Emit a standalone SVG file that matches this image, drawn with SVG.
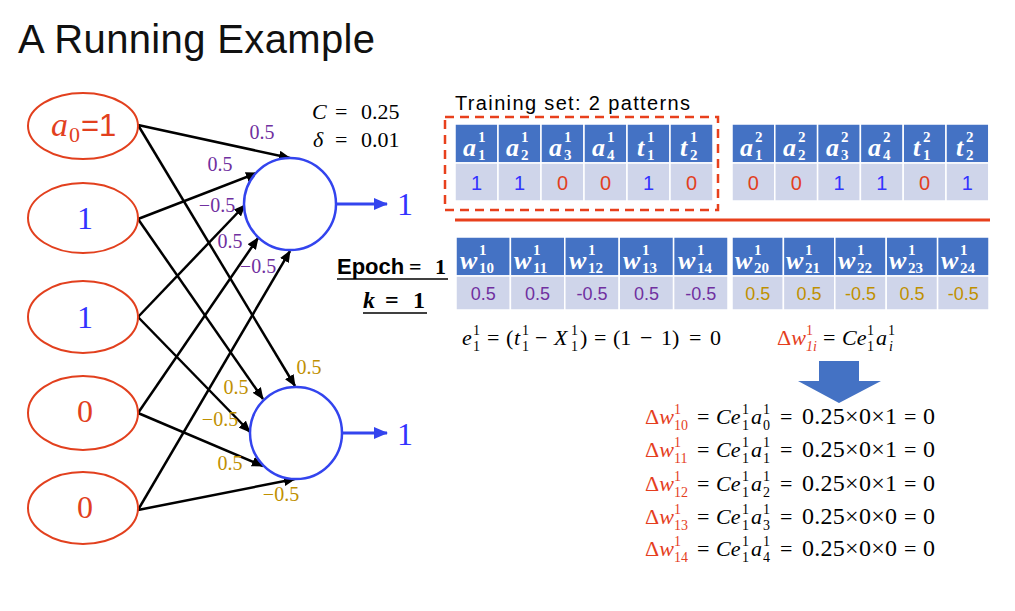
<svg xmlns="http://www.w3.org/2000/svg" width="1015" height="611" viewBox="0 0 1015 611">
<defs>
<marker id="ah" markerUnits="userSpaceOnUse" markerWidth="12" markerHeight="10" refX="11" refY="5" orient="auto"><path d="M0,0 L12,5 L0,10 z" fill="#000"/></marker>
<marker id="ahb" markerUnits="userSpaceOnUse" markerWidth="14" markerHeight="12" refX="13" refY="6" orient="auto"><path d="M0,0 L14,6 L0,12 z" fill="#3344EE"/></marker>
<style>
.s{font-family:"Liberation Serif",serif}
.ss{font-family:"Liberation Sans",sans-serif}
.i{font-style:italic}
.b{font-weight:bold}
.inp{fill:#fff;stroke:#E2401E;stroke-width:2}
.neu{fill:#fff;stroke:#3344EE;stroke-width:2.5}
.cn{stroke:#000;stroke-width:2.5;fill:none;marker-end:url(#ah)}
.out{stroke:#3344EE;stroke-width:3;fill:none;marker-end:url(#ahb)}
.wp{font-family:"Liberation Serif",serif;font-size:20px;fill:#7030A0;text-anchor:middle}
.wg{font-family:"Liberation Serif",serif;font-size:20px;fill:#BF9000;text-anchor:middle}
.ch{fill:#4472C4;stroke:#fff;stroke-width:1.5}
.cd{fill:#CFD5EA;stroke:#fff;stroke-width:1.5}
.hb{fill:#fff;font-family:"Liberation Serif",serif;font-weight:bold;font-style:italic;font-size:26px}
.hs{fill:#fff;font-family:"Liberation Serif",serif;font-weight:bold;font-size:15px}
.dv{font-family:"Liberation Sans",sans-serif;font-size:20px;text-anchor:middle}
.wv{font-family:"Liberation Sans",sans-serif;font-size:18px;text-anchor:middle}
.bl{fill:#3333FF}
.rd{fill:#E2401E}
.pu{fill:#7030A0}
.go{fill:#BF9000}
.eq{font-family:"Liberation Serif",serif;font-size:22px;fill:#000}
.num{font-family:"Liberation Serif",serif;font-size:24px;fill:#000}
.sc{font-family:"Liberation Serif",serif;font-size:14px;fill:#000}
.dr{fill:#E53E1E}
</style>
</defs>
<rect width="1015" height="611" fill="#fff"/>

<text x="18" y="53" class="ss" font-size="40" fill="#111" textLength="357">A Running Example</text>

<g id="connectors">
<path class="cn" d="M138,125 L290,158"/>
<path class="cn" d="M138,219 L257,173"/>
<path class="cn" d="M138,317 L245,205"/>
<path class="cn" d="M138,413 L258,238"/>
<path class="cn" d="M138,510 L290,251"/>
<path class="cn" d="M138,125 L295,386"/>
<path class="cn" d="M138,219 L263,399"/>
<path class="cn" d="M138,317 L250,432"/>
<path class="cn" d="M138,413 L263,466"/>
<path class="cn" d="M138,510 L295,479"/>
<path class="out" d="M336,204 L387,204"/>
<path class="out" d="M342,433 L387,433"/>
</g>

<g id="input0"><ellipse class="inp" cx="83" cy="126" rx="55" ry="33"/>
<text x="51" y="136" class="s i rd" font-size="34">a</text><text x="69" y="142" class="s rd" font-size="22">0</text><text x="81" y="136" class="ss rd" font-size="31">=1</text></g>
<g id="input1"><ellipse class="inp" cx="83" cy="218" rx="55" ry="35"/><text x="85" y="229" class="s bl" font-size="32" text-anchor="middle">1</text></g>
<g id="input2"><ellipse class="inp" cx="83" cy="317" rx="55" ry="36"/><text x="85" y="328" class="s bl" font-size="32" text-anchor="middle">1</text></g>
<g id="input3"><ellipse class="inp" cx="83" cy="413" rx="55" ry="37"/><text x="85" y="422" class="s rd" font-size="32" text-anchor="middle">0</text></g>
<g id="input4"><ellipse class="inp" cx="83" cy="508" rx="55" ry="36"/><text x="85" y="518" class="s rd" font-size="32" text-anchor="middle">0</text></g>

<g id="neuron1"><circle class="neu" cx="290" cy="204" r="46"/><text x="405" y="215" class="s bl" font-size="32" text-anchor="middle">1</text></g>
<g id="neuron2"><circle class="neu" cx="296" cy="433" r="46"/><text x="405" y="445" class="s bl" font-size="32" text-anchor="middle">1</text></g>

<g id="weights1">
<text class="wp" x="262" y="139">0.5</text>
<text class="wp" x="220" y="171">0.5</text>
<text class="wp" x="217" y="212">−0.5</text>
<text class="wp" x="230" y="248">0.5</text>
<text class="wp" x="258" y="273">−0.5</text>
</g>
<g id="weights2">
<text class="wg" x="309" y="374">0.5</text>
<text class="wg" x="236" y="394">0.5</text>
<text class="wg" x="220" y="426">−0.5</text>
<text class="wg" x="230" y="470">0.5</text>
<text class="wg" x="281" y="501">−0.5</text>
</g>

<g id="params">
<text x="312" y="119" class="eq i" font-size="25">C</text><text x="335" y="119" class="eq" font-size="25">=</text><text x="361" y="119" class="eq" font-size="25">0.25</text>
<text x="313" y="147" class="eq i" font-size="25">δ</text><text x="335" y="147" class="eq" font-size="25">=</text><text x="361" y="147" class="eq" font-size="25">0.01</text>
</g>

<g id="epoch">
<text x="337" y="274" font-size="22" class="ss b">Epoch</text><text x="409" y="274" font-size="22" class="s b">=</text><text x="435" y="274" font-size="22" class="s b">1</text>
<line x1="337" y1="279" x2="448" y2="279" stroke="#000" stroke-width="1.5"/>
<text x="363" y="308" font-size="24" class="s b i">k</text><text x="385" y="308" font-size="24" class="s b">=</text><text x="413" y="308" font-size="24" class="s b">1</text>
<line x1="363" y1="313" x2="427" y2="313" stroke="#000" stroke-width="1.5"/>
</g>

<g id="training">
<text x="455" y="110" class="ss" font-size="20" textLength="235">Training set: 2 patterns</text>
<rect x="445" y="117" width="273" height="93" fill="none" stroke="#E8401C" stroke-width="2.5" stroke-dasharray="9 6"/>
</g>

<g id="pattern1">
<rect class="ch" x="455" y="124" width="43" height="39"/><rect class="ch" x="498" y="124" width="43" height="39"/><rect class="ch" x="541" y="124" width="43" height="39"/><rect class="ch" x="584" y="124" width="43" height="39"/><rect class="ch" x="627" y="124" width="43" height="39"/><rect class="ch" x="670" y="124" width="43" height="39"/>
<rect class="cd" x="455" y="163" width="43" height="38"/><rect class="cd" x="498" y="163" width="43" height="38"/><rect class="cd" x="541" y="163" width="43" height="38"/><rect class="cd" x="584" y="163" width="43" height="38"/><rect class="cd" x="627" y="163" width="43" height="38"/><rect class="cd" x="670" y="163" width="43" height="38"/>
<text class="hb" x="463" y="156">a</text><text class="hs" x="478" y="142">1</text><text class="hs" x="478" y="160">1</text>
<text class="hb" x="506" y="156">a</text><text class="hs" x="521" y="142">1</text><text class="hs" x="521" y="160">2</text>
<text class="hb" x="549" y="156">a</text><text class="hs" x="564" y="142">1</text><text class="hs" x="564" y="160">3</text>
<text class="hb" x="592" y="156">a</text><text class="hs" x="607" y="142">1</text><text class="hs" x="607" y="160">4</text>
<text class="hb" x="637" y="156">t</text><text class="hs" x="647" y="142">1</text><text class="hs" x="647" y="160">1</text>
<text class="hb" x="680" y="156">t</text><text class="hs" x="690" y="142">1</text><text class="hs" x="690" y="160">2</text>
<text class="dv bl" x="476.5" y="190">1</text><text class="dv bl" x="519.5" y="190">1</text><text class="dv rd" x="562.5" y="190">0</text><text class="dv rd" x="605.5" y="190">0</text><text class="dv bl" x="648.5" y="190">1</text><text class="dv rd" x="691.5" y="190">0</text>
</g>

<g id="pattern2">
<rect class="ch" x="732" y="124" width="42.8" height="39"/><rect class="ch" x="774.8" y="124" width="42.8" height="39"/><rect class="ch" x="817.6" y="124" width="42.8" height="39"/><rect class="ch" x="860.4" y="124" width="42.8" height="39"/><rect class="ch" x="903.2" y="124" width="42.8" height="39"/><rect class="ch" x="946" y="124" width="42.8" height="39"/>
<rect class="cd" x="732" y="163" width="42.8" height="38"/><rect class="cd" x="774.8" y="163" width="42.8" height="38"/><rect class="cd" x="817.6" y="163" width="42.8" height="38"/><rect class="cd" x="860.4" y="163" width="42.8" height="38"/><rect class="cd" x="903.2" y="163" width="42.8" height="38"/><rect class="cd" x="946" y="163" width="42.8" height="38"/>
<text class="hb" x="740" y="156">a</text><text class="hs" x="755" y="142">2</text><text class="hs" x="755" y="160">1</text>
<text class="hb" x="783" y="156">a</text><text class="hs" x="798" y="142">2</text><text class="hs" x="798" y="160">2</text>
<text class="hb" x="826" y="156">a</text><text class="hs" x="841" y="142">2</text><text class="hs" x="841" y="160">3</text>
<text class="hb" x="868" y="156">a</text><text class="hs" x="883" y="142">2</text><text class="hs" x="883" y="160">4</text>
<text class="hb" x="913" y="156">t</text><text class="hs" x="923" y="142">2</text><text class="hs" x="923" y="160">1</text>
<text class="hb" x="956" y="156">t</text><text class="hs" x="966" y="142">2</text><text class="hs" x="966" y="160">2</text>
<text class="dv rd" x="753.4" y="190">0</text><text class="dv rd" x="796.2" y="190">0</text><text class="dv bl" x="839" y="190">1</text><text class="dv bl" x="881.8" y="190">1</text><text class="dv rd" x="924.6" y="190">0</text><text class="dv bl" x="967.4" y="190">1</text>
</g>

<line id="divider" x1="455" y1="220" x2="990" y2="220" stroke="#E8401C" stroke-width="3"/>

<g id="weights-table1">
<rect class="ch" x="456" y="237" width="54.4" height="39"/><rect class="ch" x="510.4" y="237" width="54.4" height="39"/><rect class="ch" x="564.8" y="237" width="54.4" height="39"/><rect class="ch" x="619.2" y="237" width="54.4" height="39"/><rect class="ch" x="673.6" y="237" width="54.4" height="39"/>
<rect class="cd" x="456" y="276" width="54.4" height="34"/><rect class="cd" x="510.4" y="276" width="54.4" height="34"/><rect class="cd" x="564.8" y="276" width="54.4" height="34"/><rect class="cd" x="619.2" y="276" width="54.4" height="34"/><rect class="cd" x="673.6" y="276" width="54.4" height="34"/>
<text class="hb" x="460" y="269">w</text><text class="hs" x="479" y="255">1</text><text class="hs" x="479" y="273">10</text>
<text class="hb" x="514" y="269">w</text><text class="hs" x="533" y="255">1</text><text class="hs" x="533" y="273">11</text>
<text class="hb" x="569" y="269">w</text><text class="hs" x="588" y="255">1</text><text class="hs" x="588" y="273">12</text>
<text class="hb" x="623" y="269">w</text><text class="hs" x="642" y="255">1</text><text class="hs" x="642" y="273">13</text>
<text class="hb" x="678" y="269">w</text><text class="hs" x="697" y="255">1</text><text class="hs" x="697" y="273">14</text>
<text class="wv pu" x="483.2" y="300">0.5</text><text class="wv pu" x="537.6" y="300">0.5</text><text class="wv pu" x="592" y="300">-0.5</text><text class="wv pu" x="646.4" y="300">0.5</text><text class="wv pu" x="700.8" y="300">-0.5</text>
</g>

<g id="weights-table2">
<rect class="ch" x="732" y="237" width="51.4" height="39"/><rect class="ch" x="783.4" y="237" width="51.4" height="39"/><rect class="ch" x="834.8" y="237" width="51.4" height="39"/><rect class="ch" x="886.2" y="237" width="51.4" height="39"/><rect class="ch" x="937.6" y="237" width="51.4" height="39"/>
<rect class="cd" x="732" y="276" width="51.4" height="34"/><rect class="cd" x="783.4" y="276" width="51.4" height="34"/><rect class="cd" x="834.8" y="276" width="51.4" height="34"/><rect class="cd" x="886.2" y="276" width="51.4" height="34"/><rect class="cd" x="937.6" y="276" width="51.4" height="34"/>
<text class="hb" x="735" y="269">w</text><text class="hs" x="754" y="255">1</text><text class="hs" x="754" y="273">20</text>
<text class="hb" x="786" y="269">w</text><text class="hs" x="805" y="255">1</text><text class="hs" x="805" y="273">21</text>
<text class="hb" x="838" y="269">w</text><text class="hs" x="857" y="255">1</text><text class="hs" x="857" y="273">22</text>
<text class="hb" x="889" y="269">w</text><text class="hs" x="908" y="255">1</text><text class="hs" x="908" y="273">23</text>
<text class="hb" x="941" y="269">w</text><text class="hs" x="960" y="255">1</text><text class="hs" x="960" y="273">24</text>
<text class="wv go" x="757.7" y="300">0.5</text><text class="wv go" x="809.1" y="300">0.5</text><text class="wv go" x="860.5" y="300">-0.5</text><text class="wv go" x="911.9" y="300">0.5</text><text class="wv go" x="963.3" y="300">-0.5</text>
</g>

<g id="error-eq">
<text class="eq i" x="462" y="345">e</text><text class="sc" x="473" y="335">1</text><text class="sc" x="473" y="351">1</text>
<text class="eq" x="487" y="345">=</text>
<text class="eq" x="506" y="345">(</text><text class="eq i" x="514" y="345">t</text><text class="sc" x="522" y="335">1</text><text class="sc" x="522" y="351">1</text>
<text class="eq" x="535" y="345">−</text>
<text class="eq i" x="554" y="345">X</text><text class="sc" x="571" y="335">1</text><text class="sc" x="571" y="351">1</text>
<text class="eq" x="580" y="345">)</text>
<text class="eq" x="594" y="345">=</text>
<text class="eq" x="613" y="345">(1</text>
<text class="eq" x="640" y="345">−</text>
<text class="eq" x="661" y="345">1)</text>
<text class="eq" x="689" y="345">=</text>
<text class="eq" x="710" y="345">0</text>
</g>

<g id="delta-rule">
<text class="eq" x="777" y="345"><tspan class="dr">Δ</tspan><tspan class="dr i">w</tspan></text><text class="sc dr" x="806" y="335">1</text><text class="sc dr i" x="806" y="351">1i</text>
<text class="eq" x="823" y="345">=</text>
<text class="eq i" x="842" y="345">Ce</text><text class="sc" x="867" y="335">1</text><text class="sc" x="867" y="351">1</text>
<text class="eq i" x="876" y="345">a</text><text class="sc" x="888" y="335">1</text><text class="sc i" x="889" y="351">i</text>
</g>

<path id="down-arrow" d="M819,361 L859,361 L859,381 L881,381 L839,403 L798,381 L819,381 z" fill="#4472C4"/>

<g id="updates">
<text class="eq" x="645" y="424"><tspan class="dr">Δ</tspan><tspan class="dr i">w</tspan></text><text class="sc dr" x="674" y="414">1</text><text class="sc dr" x="674" y="430">10</text>
<text class="eq" x="697" y="424">=</text><text class="eq i" x="716" y="424">Ce</text><text class="sc" x="742" y="414">1</text><text class="sc" x="742" y="430">1</text><text class="eq i" x="751" y="424">a</text><text class="sc" x="763" y="414">1</text><text class="sc" x="763" y="430">0</text>
<text class="eq" x="780" y="424">=</text><text class="num" x="802" y="424" textLength="95">0.25×0×1</text><text class="eq" x="904" y="424">=</text><text class="num" x="923" y="424">0</text>

<text class="eq" x="645" y="457"><tspan class="dr">Δ</tspan><tspan class="dr i">w</tspan></text><text class="sc dr" x="674" y="447">1</text><text class="sc dr" x="674" y="463">11</text>
<text class="eq" x="697" y="457">=</text><text class="eq i" x="716" y="457">Ce</text><text class="sc" x="742" y="447">1</text><text class="sc" x="742" y="463">1</text><text class="eq i" x="751" y="457">a</text><text class="sc" x="763" y="447">1</text><text class="sc" x="763" y="463">1</text>
<text class="eq" x="780" y="457">=</text><text class="num" x="802" y="457" textLength="95">0.25×0×1</text><text class="eq" x="904" y="457">=</text><text class="num" x="923" y="457">0</text>

<text class="eq" x="645" y="491"><tspan class="dr">Δ</tspan><tspan class="dr i">w</tspan></text><text class="sc dr" x="674" y="481">1</text><text class="sc dr" x="674" y="497">12</text>
<text class="eq" x="697" y="491">=</text><text class="eq i" x="716" y="491">Ce</text><text class="sc" x="742" y="481">1</text><text class="sc" x="742" y="497">1</text><text class="eq i" x="751" y="491">a</text><text class="sc" x="763" y="481">1</text><text class="sc" x="763" y="497">2</text>
<text class="eq" x="780" y="491">=</text><text class="num" x="802" y="491" textLength="95">0.25×0×1</text><text class="eq" x="904" y="491">=</text><text class="num" x="923" y="491">0</text>

<text class="eq" x="645" y="524"><tspan class="dr">Δ</tspan><tspan class="dr i">w</tspan></text><text class="sc dr" x="674" y="514">1</text><text class="sc dr" x="674" y="530">13</text>
<text class="eq" x="697" y="524">=</text><text class="eq i" x="716" y="524">Ce</text><text class="sc" x="742" y="514">1</text><text class="sc" x="742" y="530">1</text><text class="eq i" x="751" y="524">a</text><text class="sc" x="763" y="514">1</text><text class="sc" x="763" y="530">3</text>
<text class="eq" x="780" y="524">=</text><text class="num" x="802" y="524" textLength="95">0.25×0×0</text><text class="eq" x="904" y="524">=</text><text class="num" x="923" y="524">0</text>

<text class="eq" x="645" y="556"><tspan class="dr">Δ</tspan><tspan class="dr i">w</tspan></text><text class="sc dr" x="674" y="546">1</text><text class="sc dr" x="674" y="562">14</text>
<text class="eq" x="697" y="556">=</text><text class="eq i" x="716" y="556">Ce</text><text class="sc" x="742" y="546">1</text><text class="sc" x="742" y="562">1</text><text class="eq i" x="751" y="556">a</text><text class="sc" x="763" y="546">1</text><text class="sc" x="763" y="562">4</text>
<text class="eq" x="780" y="556">=</text><text class="num" x="802" y="556" textLength="95">0.25×0×0</text><text class="eq" x="904" y="556">=</text><text class="num" x="923" y="556">0</text>
</g>
</svg>
